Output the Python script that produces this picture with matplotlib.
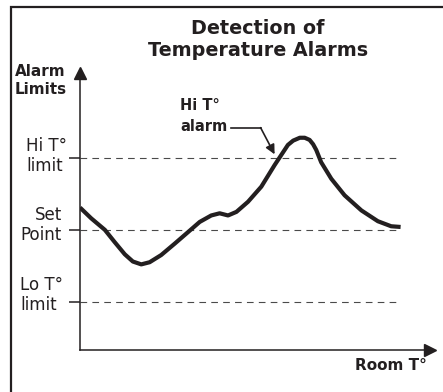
import numpy as np
import matplotlib.pyplot as plt
from matplotlib.patches import Rectangle

# room temperature trace (arbitrary units) and the three alarm levels
room_x = [0.00, 0.32, 0.71, 0.99, 1.28, 1.51, 1.75, 1.99, 2.32, 2.71, 3.09, 3.42,
          3.75, 3.99, 4.23, 4.47, 4.80, 5.18, 5.56, 5.75, 5.94, 6.09, 6.28, 6.42,
          6.56, 6.66, 6.75, 6.89, 7.18, 7.56, 8.04, 8.51, 8.89, 9.16]
room_y = [2.31, 2.16, 2.00, 1.83, 1.66, 1.56, 1.52, 1.55, 1.65, 1.81, 1.97, 2.11,
          2.20, 2.23, 2.20, 2.25, 2.39, 2.60, 2.90, 3.04, 3.18, 3.24, 3.28, 3.28,
          3.25, 3.19, 3.11, 2.94, 2.71, 2.48, 2.27, 2.12, 2.05, 2.04]
levels = [1, 2, 3]
level_labels = ["Lo T\u00b0\nlimit", "Set\nPoint", "Hi T\u00b0\nlimit"]
limit_end = 9.06

# callout leader for the alarm point
callout_x = [4.32, 5.16]
callout_y = [3.42, 3.42]
alarm_tip = (5.56, 3.05)

W, H = 443, 392
INK = "#231f20"
fig = plt.figure(figsize=(W / 100, H / 100), dpi=100)
ax = fig.add_axes([80 / W, 42 / H, 350 / W, 277 / H])
ax.set_xlim(0, 10)
ax.set_ylim(0.33, 4.18)

# outer frame, only its top and left edges fall inside the figure
fig.patches.append(Rectangle((10.5 / W, -0.2), 1.5, (H - 6.5) / H + 0.2,
                             transform=fig.transFigure, fill=False,
                             lw=1.6, ec=INK))

for s in ["top", "right"]:
    ax.spines[s].set_visible(False)
for s in ["left", "bottom"]:
    ax.spines[s].set_linewidth(1.1)
    ax.spines[s].set_color(INK)
ax.plot(1, 0, marker=">", ms=9, color=INK, transform=ax.transAxes, clip_on=False)
ax.plot(0, 1, marker="^", ms=9, color=INK, transform=ax.transAxes, clip_on=False)

ax.set_xticks([])
ax.set_yticks(levels)
ax.tick_params(axis="y", length=8, width=1.1, color=INK, labelleft=False)

# level labels: right edge (px from the y axis), vertical nudge (px), line alignment
label_right = [-17, -18, -13]
label_nudge = [6.5, 4.5, 2.0]
label_align = ["left", "right", "left"]
ytrans = ax.get_yaxis_transform()
for lv, txt, xr, dy, al in zip(levels, level_labels, label_right, label_nudge, label_align):
    ax.text(xr / 350, lv + dy / 72, txt, transform=ytrans, fontsize=12,
            color=INK, ha="right", va="center", multialignment=al,
            linespacing=1.15)

for lv in levels:
    ax.plot([0, limit_end], [lv, lv], color="#4a4a4a", lw=0.8, dashes=(6, 4.7))

ax.plot(room_x, room_y, color=INK, lw=3, solid_joinstyle="round",
        solid_capstyle="butt")

ax.plot(callout_x, callout_y, color=INK, lw=1.2)
ax.annotate("", xy=alarm_tip, xytext=(callout_x[-1], callout_y[-1]),
            arrowprops=dict(arrowstyle="-|>", color=INK, lw=1.2,
                            mutation_scale=14, shrinkA=0, shrinkB=0))
ax.text(2.86, 3.73, "Hi T\u00b0", fontsize=10.5, fontweight="bold",
        color=INK, va="center")
ax.text(2.86, 3.44, "alarm", fontsize=10.5, fontweight="bold",
        color=INK, va="center")

fig.text(258 / W, 1 - 28 / H, "Detection of", fontsize=13.8, fontweight="bold",
         ha="center", va="center", color=INK)
fig.text(258 / W, 1 - 50 / H, "Temperature Alarms", fontsize=13.8,
         fontweight="bold", ha="center", va="center", color=INK)
fig.text(15 / W, 1 - 80 / H, "Alarm\nLimits", fontsize=11, fontweight="bold",
         ha="left", va="center", color=INK, linespacing=1.25)
fig.text(427 / W, 1 - 366 / H, "Room T\u00b0", fontsize=11, fontweight="bold",
         ha="right", va="center", color=INK)

fig.savefig("out.png", dpi=100)
